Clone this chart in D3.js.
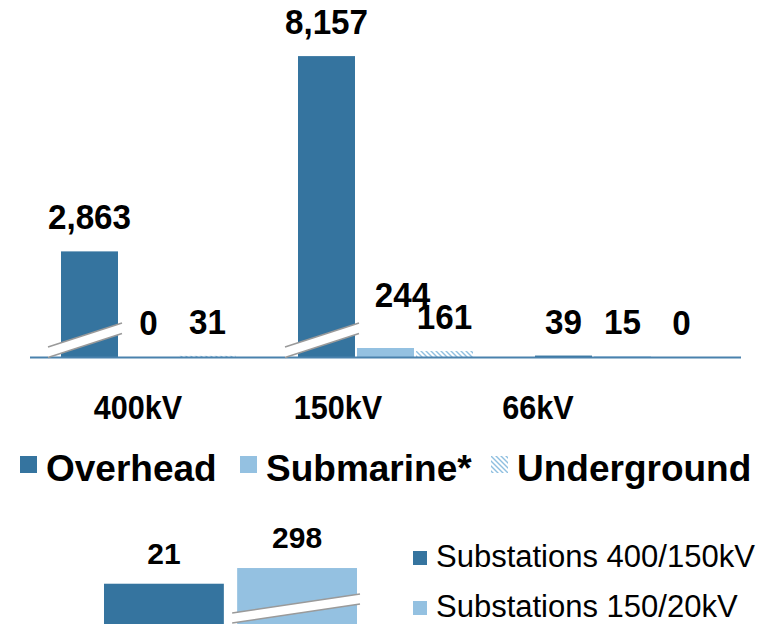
<!DOCTYPE html>
<html>
<head>
<meta charset="utf-8">
<script src="https://cdn.jsdelivr.net/npm/d3@7"></script>
<style>
  html, body { margin: 0; padding: 0; background: #fff; }
  svg { display: block; font-family: "Liberation Sans", Arial, sans-serif; }
</style>
</head>
<body>
<svg id="chart" width="781" height="624"></svg>
<script>
// ---- data ----
const categories = ["400kV", "150kV", "66kV"];
const series = ["Overhead", "Submarine*", "Underground"];
const overhead = [2863, 8157, 39];
const submarine = [0, 244, 15];
const underground = [31, 161, 0];
const seriesValues = [overhead, submarine, underground];

const subCategories = ["Substations 400/150kV", "Substations 150/20kV"];
const subValues = [21, 298];

// ---- styles ----
const darkBlue = "#35749f";
const lightBlue = "#94c1e1";
const hatchBlue = "#8fbfe0";
const axisBlue = "#4a82ad";

const svg = d3.select("#chart");
const defs = svg.append("defs");
const pat = defs.append("pattern")
  .attr("id", "hatch").attr("patternUnits", "userSpaceOnUse")
  .attr("width", 5).attr("height", 5);
pat.append("rect").attr("width", 5).attr("height", 5).attr("fill", "#fff");
pat.append("path").attr("d", "M0,0 L5,5 M-1,4 L1,6 M4,-1 L6,1")
  .attr("stroke", hatchBlue).attr("stroke-width", 1.4);

// ---- top chart scales ----
const baseY = 357;
const y = d3.scaleLinear().domain([0, 9000]).range([baseY, 25]);
const x0 = d3.scaleBand().domain(categories).range([30, 741]).padding(0);
const x1 = d3.scaleBand().domain(series).range([-88.5, 88.5]).paddingInner(0.034).paddingOuter(0.017);

const fills = [darkBlue, lightBlue, "url(#hatch)"];

const flat = [];
categories.forEach((c, ci) => {
  series.forEach((s, si) => {
    flat.push({ cat: c, ser: s, si, value: seriesValues[si][ci] });
  });
});

const gBars = svg.append("g");
gBars.selectAll("rect").data(flat).enter().append("rect")
  .attr("x", d => x0(d.cat) + x0.bandwidth() / 2 + x1(d.ser))
  .attr("y", d => y(d.value))
  .attr("width", x1.bandwidth())
  .attr("height", d => baseY - y(d.value))
  .attr("fill", d => fills[d.si]);

// axis line
svg.append("line")
  .attr("x1", 30).attr("x2", 741).attr("y1", baseY + 0.5).attr("y2", baseY + 0.5)
  .attr("stroke", axisBlue).attr("stroke-width", 2.2);

// break marks on tall overhead bars
function breakMark(g, xl, xr, yl, yr, gap) {
  const pts = [[xl, yl], [xr, yr], [xr, yr + gap], [xl, yl + gap]];
  g.append("path").attr("d", "M" + pts.map(p => p.join(",")).join("L") + "Z")
    .attr("fill", "#fff");
  g.append("line").attr("x1", xl).attr("y1", yl).attr("x2", xr).attr("y2", yr)
    .attr("stroke", "#9a9a9a").attr("stroke-width", 1.6);
  g.append("line").attr("x1", xl).attr("y1", yl + gap).attr("x2", xr).attr("y2", yr + gap)
    .attr("stroke", "#9a9a9a").attr("stroke-width", 1.6);
}
const gBreak = svg.append("g");
["400kV", "150kV"].forEach(c => {
  const bx = x0(c) + x0.bandwidth() / 2 + x1("Overhead");
  breakMark(gBreak, bx - 13, bx + x1.bandwidth() + 4, baseY - 10, baseY - 34, 10.5);
});

// value labels (narrowed bold, like the reference)
const nudges = { "150kV|Submarine*": [17, -19] };
svg.append("g").selectAll("text").data(flat).enter().append("text")
  .attr("transform", d => {
    const n = nudges[d.cat + "|" + d.ser] || [0, 0];
    const tx = x0(d.cat) + x0.bandwidth() / 2 + x1(d.ser) + x1.bandwidth() / 2 + n[0];
    const ty = y(d.value) - 22 + n[1];
    return `translate(${tx},${ty}) scale(0.95,1)`;
  })
  .attr("text-anchor", "middle")
  .attr("font-weight", "bold").attr("font-size", 35).attr("fill", "#000")
  .text(d => d3.format(",")(d.value));

// category labels
const xl = d3.scalePoint().domain(categories).range([138, 538]);
svg.append("g").selectAll("text").data(categories).enter().append("text")
  .attr("transform", d => `translate(${xl(d)},419) scale(0.9,1)`)
  .attr("text-anchor", "middle")
  .attr("font-weight", "bold").attr("font-size", 34)
  .text(d => d);

// legend (top)
const legX = [20, 240, 491];
const lg = svg.append("g");
series.forEach((s, i) => {
  lg.append("rect").attr("x", legX[i]).attr("y", 456).attr("width", 17).attr("height", 17)
    .attr("fill", fills[i]);
  lg.append("text").attr("x", legX[i] + 26).attr("y", 481)
    .attr("font-weight", "bold").attr("font-size", 37).text(s);
});

// ---- bottom chart ----
const subBase = 640;
const ys = d3.scaleLinear().domain([0, 25, 300]).range([subBase, subBase - 67, subBase - 72]);
const xs = d3.scaleBand().domain(subCategories).range([100, 361]).paddingInner(0.1).paddingOuter(0.03);
const subFills = [darkBlue, lightBlue];
svg.append("g").selectAll("rect").data(subValues).enter().append("rect")
  .attr("x", (d, i) => xs(subCategories[i]))
  .attr("y", d => ys(d))
  .attr("width", xs.bandwidth())
  .attr("height", d => subBase - ys(d))
  .attr("fill", (d, i) => subFills[i]);
{
  const bx = xs(subCategories[1]);
  breakMark(svg.append("g"), bx - 5, bx + xs.bandwidth() + 3, 613, 594, 10);
}
svg.append("g").selectAll("text").data(subValues).enter().append("text")
  .attr("x", (d, i) => xs(subCategories[i]) + xs.bandwidth() / 2)
  .attr("y", d => ys(d) - 20)
  .attr("text-anchor", "middle")
  .attr("font-weight", "bold").attr("font-size", 30)
  .text(d => d3.format(",")(d));

const lg2 = svg.append("g");
subCategories.forEach((s, i) => {
  lg2.append("rect").attr("x", 413).attr("y", 551 + i * 50).attr("width", 14).attr("height", 14)
    .attr("fill", subFills[i]);
  lg2.append("text").attr("x", 436).attr("y", 567 + i * 50)
    .attr("font-size", 31).text(s);
});
</script>
</body>
</html>
